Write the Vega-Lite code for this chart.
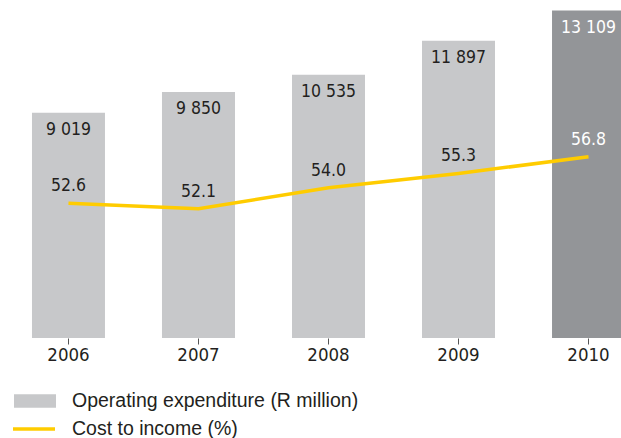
{
  "$schema": "https://vega.github.io/schema/vega-lite/v6.json",
  "width": 621,
  "height": 338,
  "autosize": {"type": "none"},
  "padding": {"left": 0, "top": 0, "right": 0, "bottom": 100},
  "background": "white",
  "config": {
    "view": {"stroke": null},
    "font": "DejaVu Sans Condensed, sans-serif",
    "locale": {"number": {"decimal": ".", "thousands": " ", "grouping": [3], "currency": ["", ""]}}
  },
  "data": {
    "values": [
      {"year": "2006", "opex": 9019, "cti": 52.6, "s1": "Operating expenditure (R million)", "s2": "Cost to income (%)"},
      {"year": "2007", "opex": 9850, "cti": 52.1, "s1": "Operating expenditure (R million)", "s2": "Cost to income (%)"},
      {"year": "2008", "opex": 10535, "cti": 54.0, "s1": "Operating expenditure (R million)", "s2": "Cost to income (%)"},
      {"year": "2009", "opex": 11897, "cti": 55.3, "s1": "Operating expenditure (R million)", "s2": "Cost to income (%)"},
      {"year": "2010", "opex": 13109, "cti": 56.8, "s1": "Operating expenditure (R million)", "s2": "Cost to income (%)"}
    ]
  },
  "encoding": {
    "x": {
      "field": "year",
      "type": "ordinal",
      "scale": {"range": [3.5, 653.5], "paddingInner": 0.4385, "paddingOuter": 0.219},
      "axis": {
        "title": null,
        "domain": false,
        "ticks": true,
        "tickSize": 6,
        "tickColor": "#555555",
        "tickWidth": 1,
        "labelAngle": 0,
        "labelFontSize": 18.5,
        "labelColor": "#231f20",
        "labelPadding": 1,
        "grid": false
      }
    }
  },
  "layer": [
    {
      "mark": {"type": "bar"},
      "encoding": {
        "y": {"field": "opex", "type": "quantitative", "scale": {"domain": [0, 13530]}, "axis": null},
        "fill": {
          "condition": {"test": "datum.year === '2010'", "value": "#939598"},
          "field": "s1",
          "type": "nominal",
          "scale": {"range": ["#c7c8ca"]},
          "legend": {
            "orient": "none",
            "legendX": 14,
            "legendY": 380,
            "title": null,
            "padding": 0,
            "symbolType": "M-1,-0.32H1V0.32H-1Z",
            "symbolSize": 1764,
            "symbolStrokeWidth": 0,
            "labelFont": "Liberation Sans",
            "labelFontSize": 19.5,
            "labelColor": "#231f20",
            "labelOffset": 16,
            "labelLimit": 0
          }
        }
      }
    },
    {
      "mark": {"type": "text", "dy": 17, "fontSize": 17.5, "baseline": "middle"},
      "encoding": {
        "y": {"field": "opex", "type": "quantitative", "scale": {"domain": [0, 13530]}, "axis": null},
        "text": {"field": "opex", "type": "quantitative", "format": ","},
        "color": {"condition": {"test": "datum.year === '2010'", "value": "#ffffff"}, "value": "#231f20"}
      }
    },
    {
      "mark": {"type": "line", "strokeWidth": 3.5},
      "encoding": {
        "y": {"field": "cti", "type": "quantitative", "scale": {"domain": [40.4, 71], "zero": false}, "axis": null},
        "stroke": {
          "field": "s2",
          "type": "nominal",
          "scale": {"range": ["#ffcc00"]},
          "legend": {
            "orient": "none",
            "legendX": 11,
            "legendY": 406,
            "title": null,
            "padding": 0,
            "symbolType": "stroke",
            "symbolSize": 1764,
            "symbolStrokeWidth": 3.5,
            "labelFont": "Liberation Sans",
            "labelFontSize": 19.5,
            "labelColor": "#231f20",
            "labelOffset": 15,
            "labelLimit": 0
          }
        }
      }
    },
    {
      "mark": {"type": "text", "dy": -17, "fontSize": 17.5, "baseline": "middle"},
      "encoding": {
        "y": {"field": "cti", "type": "quantitative", "scale": {"domain": [40.4, 71], "zero": false}, "axis": null},
        "text": {"field": "cti", "type": "quantitative", "format": ".1f"},
        "color": {"condition": {"test": "datum.year === '2010'", "value": "#ffffff"}, "value": "#231f20"}
      }
    }
  ],
  "resolve": {"scale": {"y": "independent"}}
}
